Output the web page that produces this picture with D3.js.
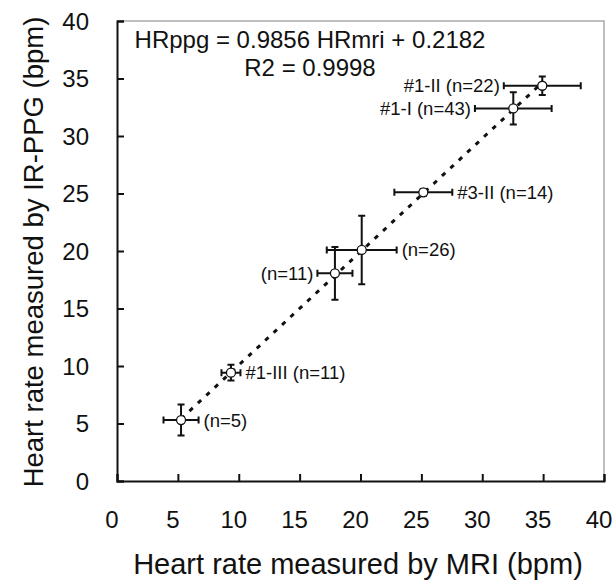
<!DOCTYPE html>
<html>
<head>
<meta charset="utf-8">
<script src="https://cdn.jsdelivr.net/npm/d3@7"></script>
<style>
  body { margin: 0; background: #fff; }
  text { font-family: "Liberation Sans", Arial, sans-serif; fill: #111; }
</style>
</head>
<body>
<script>
// data
var labels = ["(n=5)", "#1-III (n=11)", "(n=11)", "(n=26)", "#3-II (n=14)", "#1-I (n=43)", "#1-II (n=22)"];
var mriHR = [5.26, 9.36, 17.9, 20.1, 25.16, 32.55, 34.93];
var ppgHR = [5.3, 9.42, 18.06, 20.09, 25.1, 32.4, 34.37];
var mriErr = [1.44, 0.78, 1.44, 2.87, 2.38, 3.15, 3.16];
var ppgErr = [1.35, 0.68, 2.29, 2.98, 0.3, 1.4, 0.8];
var labelSide = ["right", "right", "left", "right", "right", "left", "left"];
var ticks = [0, 5, 10, 15, 20, 25, 30, 35, 40];
var slope = 0.9856, intercept = 0.2182;

var width = 615, height = 586;
var margin = {left: 117, right: 11, top: 21, bottom: 105};

var svg = d3.select("body").append("svg")
    .attr("width", width)
    .attr("height", height);

var x = d3.scaleLinear().domain([0, 40]).range([margin.left, width - margin.right]);
var y = d3.scaleLinear().domain([0, 40]).range([height - margin.bottom, margin.top]);

// gray frame top/right
svg.append("path")
    .attr("d", "M" + x(0) + "," + y(40) + "H" + x(40) + "V" + y(0))
    .attr("fill", "none")
    .attr("stroke", "#aaa")
    .attr("stroke-width", 1.5);

// axes, ticks pointing inward
var xAxis = svg.append("g")
    .attr("transform", "translate(0," + y(0) + ")")
    .call(d3.axisTop(x).tickValues(ticks).tickSize(7).tickFormat(""));
var yAxis = svg.append("g")
    .attr("transform", "translate(" + x(0) + ",0)")
    .call(d3.axisRight(y).tickValues(ticks).tickSize(7).tickFormat(""));
[xAxis, yAxis].forEach(function(g){
    g.select(".domain").attr("stroke", "#111").attr("stroke-width", 2);
    g.selectAll(".tick line").attr("stroke", "#111").attr("stroke-width", 2);
});

// tick labels
svg.selectAll(".xlab")
    .data(ticks)
    .enter().append("text")
    .attr("x", function(d){ return x(d) - 5; })
    .attr("y", 528)
    .attr("text-anchor", "middle")
    .style("font-size", "24px")
    .text(function(d){ return d; });
svg.selectAll(".ylab")
    .data(ticks)
    .enter().append("text")
    .attr("x", 89)
    .attr("y", function(d){ return y(d) + 8.5; })
    .attr("text-anchor", "end")
    .style("font-size", "24px")
    .text(function(d){ return d; });

// axis titles
svg.append("text")
    .attr("x", 358)
    .attr("y", 574)
    .attr("text-anchor", "middle")
    .style("font-size", "29px")
    .text("Heart rate measured by MRI (bpm)");
svg.append("text")
    .attr("transform", "translate(43," + 252 + ") rotate(-90)")
    .attr("text-anchor", "middle")
    .style("font-size", "27.5px")
    .text("Heart rate measured by IR-PPG (bpm)");

// trend line over data range
var xMin = d3.min(mriHR), xMax = d3.max(mriHR);
svg.append("line")
    .attr("x1", x(xMin)).attr("y1", y(slope * xMin + intercept))
    .attr("x2", x(xMax)).attr("y2", y(slope * xMax + intercept))
    .attr("stroke", "#111")
    .attr("stroke-width", 3)
    .attr("stroke-dasharray", "4.5,7");

// error bars + markers
var pts = d3.range(mriHR.length).map(function(i){
    return {lab: labels[i], x: mriHR[i], y: ppgHR[i], ex: mriErr[i], ey: ppgErr[i], side: labelSide[i]};
});

var g = svg.selectAll(".pt")
    .data(pts)
    .enter().append("g")
    .attr("class", "pt");

var cap = 3.5;
g.append("path")
    .attr("d", function(d){
        var x0 = x(d.x - d.ex), x1 = x(d.x + d.ex), yc = y(d.y);
        var y0 = y(d.y - d.ey), y1 = y(d.y + d.ey), xc = x(d.x);
        return "M" + x0 + "," + yc + "H" + x1 +
            "M" + x0 + "," + (yc - cap) + "V" + (yc + cap) +
            "M" + x1 + "," + (yc - cap) + "V" + (yc + cap) +
            "M" + xc + "," + y0 + "V" + y1 +
            "M" + (xc - cap) + "," + y0 + "H" + (xc + cap) +
            "M" + (xc - cap) + "," + y1 + "H" + (xc + cap);
    })
    .attr("fill", "none")
    .attr("stroke", "#111")
    .attr("stroke-width", 2);

g.append("circle")
    .attr("cx", function(d){ return x(d.x); })
    .attr("cy", function(d){ return y(d.y); })
    .attr("r", 4.5)
    .attr("fill", "#fff")
    .attr("stroke", "#111")
    .attr("stroke-width", 1.3);

g.append("text")
    .attr("x", function(d){
        return d.side == "right" ? x(d.x + d.ex) + 5 : x(d.x - d.ex) - 4;
    })
    .attr("y", function(d){ return y(d.y) + 6.5; })
    .attr("text-anchor", function(d){ return d.side == "right" ? "start" : "end"; })
    .style("font-size", "18.5px")
    .text(function(d){ return d.lab; });

// equation
svg.append("text")
    .attr("x", 310)
    .attr("y", 48)
    .attr("text-anchor", "middle")
    .style("font-size", "24px")
    .text("HRppg = " + slope + " HRmri + " + intercept);
svg.append("text")
    .attr("x", 310)
    .attr("y", 76)
    .attr("text-anchor", "middle")
    .style("font-size", "24px")
    .text("R2 = 0.9998");
</script>
</body>
</html>
